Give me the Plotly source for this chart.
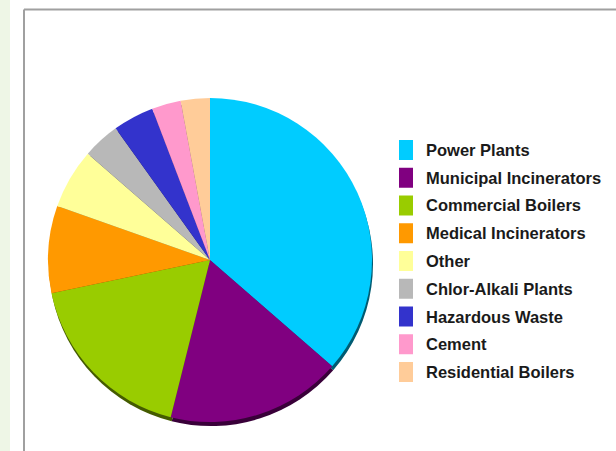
import plotly.graph_objects as go

labels = ["Power Plants", "Municipal Incinerators", "Commercial Boilers",
          "Medical Incinerators", "Other", "Chlor-Alkali Plants",
          "Hazardous Waste", "Cement", "Residential Boilers"]
values = [36.4, 17.5, 17.8, 8.7, 6.0, 3.7, 4.1, 2.9, 2.9]
colors = ["#00CCFF", "#800080", "#99CC00", "#FF9900", "#FFFF99",
          "#B8B8B8", "#3333CC", "#FF99CC", "#FFCC99"]

W, H = 616, 451


def darken(hexc, f=0.45):
    h = hexc.lstrip("#")
    r, g, b = (int(h[i:i + 2], 16) for i in (0, 2, 4))
    return "#%02x%02x%02x" % (int(r * f), int(g * f), int(b * f))


def dom(cx, cy, r):
    return dict(x=[(cx - r) / W, (cx + r) / W],
                y=[(H - cy - r) / H, (H - cy + r) / H])


cx, cy, R = 210, 260, 162

fig = go.Figure()
# shadow
fig.add_trace(go.Pie(labels=labels, values=values, sort=False,
                     direction="clockwise", rotation=0,
                     marker=dict(colors=[darken(c) for c in colors], line=dict(width=0)),
                     textinfo="none", hoverinfo="skip", showlegend=False,
                     domain=dom(cx + 1, cy + 4, R)))
fig.add_trace(go.Pie(labels=labels, values=values, sort=False,
                     direction="clockwise", rotation=0,
                     marker=dict(colors=colors, line=dict(width=0)),
                     textinfo="none", showlegend=False,
                     domain=dom(cx, cy, R)))

shapes = [
    dict(type="rect", xref="paper", yref="paper", x0=0, x1=10 / W, y0=0, y1=1,
         fillcolor="#EEF6E6", line=dict(width=0), layer="below"),
    dict(type="line", xref="paper", yref="paper", x0=24 / W, x1=1,
         y0=1 - 9.5 / H, y1=1 - 9.5 / H, line=dict(color="#A0A0A0", width=2)),
    dict(type="line", xref="paper", yref="paper", x0=24 / W, x1=24 / W,
         y0=0, y1=1 - 9.5 / H, line=dict(color="#A0A0A0", width=2)),
]
annotations = []
y0, dy = 150, 27.75
for i, (lab, col) in enumerate(zip(labels, colors)):
    yc = y0 + i * dy
    shapes.append(dict(type="rect", xref="paper", yref="paper",
                       x0=399 / W, x1=413 / W,
                       y0=1 - (yc + 10) / H, y1=1 - (yc - 10) / H,
                       fillcolor=col, line=dict(width=0)))
    annotations.append(dict(text="<b>" + lab + "</b>", xref="paper", yref="paper",
                            x=424 / W, y=1 - yc / H, xanchor="left", yanchor="middle",
                            showarrow=False,
                            font=dict(family="Liberation Sans, Arial", size=16.5, color="#1a1a1a")))

fig.update_layout(width=W, height=H, margin=dict(l=0, r=0, t=0, b=0),
                  paper_bgcolor="white", plot_bgcolor="white",
                  shapes=shapes, annotations=annotations, showlegend=False)
fig.write_html("out.html")
